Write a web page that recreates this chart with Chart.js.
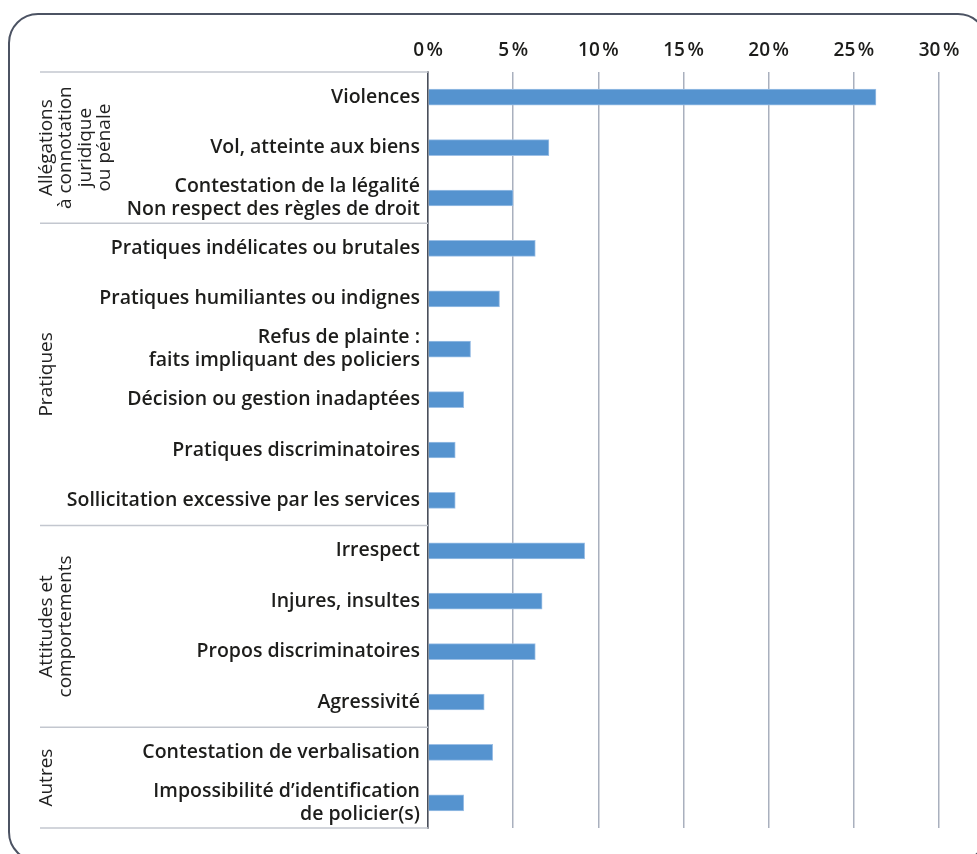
<!DOCTYPE html>
<html lang="fr">
<head>
<meta charset="utf-8">
<title>Motifs de réclamation</title>
<script src="https://cdn.jsdelivr.net/npm/chart.js@4/dist/chart.umd.min.js"></script>
<style>
  html, body { margin: 0; padding: 0; background: #fff; }
  #wrap { position: relative; width: 977px; height: 854px; overflow: hidden; }
  #frame {
    position: absolute; left: 8px; top: 13px; width: 980px; height: 849px;
    box-sizing: border-box; border: 2.5px solid #4c5363; border-radius: 30px;
  }
  #box { position: absolute; left: 0; top: 0; width: 977px; height: 854px; }
</style>
</head>
<body>
<div id="wrap">
  <div id="frame"></div>
  <div id="box"><canvas id="chart"></canvas></div>
</div>
<script>
// categories (top to bottom), multi-line labels as arrays
const categories = [
  'Violences',
  'Vol, atteinte aux biens',
  ['Contestation de la légalité', 'Non respect des règles de droit'],
  'Pratiques indélicates ou brutales',
  'Pratiques humiliantes ou indignes',
  ['Refus de plainte :', 'faits impliquant des policiers'],
  'Décision ou gestion inadaptées',
  'Pratiques discriminatoires',
  'Sollicitation excessive par les services',
  'Irrespect',
  'Injures, insultes',
  'Propos discriminatoires',
  'Agressivité',
  'Contestation de verbalisation',
  ['Impossibilité d\u2019identification', 'de policier(s)']
];

// share of complaints, %
const shares = [26.3, 7.1, 5.0, 6.3, 4.2, 2.5, 2.1, 1.6, 1.6, 9.2, 6.7, 6.3, 3.3, 3.8, 2.1];

// groups: label lines + number of categories in each
const groupLabels = [
  ['Allégations', 'à connotation', 'juridique', 'ou pénale'],
  ['Pratiques'],
  ['Attitudes et', 'comportements'],
  ['Autres']
];
const groupSizes = [3, 6, 4, 2];

const xTicks = [0, 5, 10, 15, 20, 25, 30];

const textColor = '#1d1d1b';
const labelFont = { family: '"Open Sans", sans-serif', size: 19.5, weight: '600', lineHeight: 1.2 };

// draws rotated group names and the light separator lines on the left
const groupPlugin = {
  id: 'groups',
  afterDraw(chart) {
    const ctx = chart.ctx;
    const area = chart.chartArea;
    const n = categories.length;
    const step = (area.bottom - area.top) / n;
    const x0 = 40;
    ctx.save();
    ctx.strokeStyle = '#c3c7cf';
    ctx.lineWidth = 1.5;
    let idx = 0;
    const bounds = [area.top];
    groupSizes.forEach(s => { idx += s; bounds.push(area.top + idx * step); });
    bounds.forEach(b => {
      ctx.beginPath();
      ctx.moveTo(x0, b);
      ctx.lineTo(area.left, b);
      ctx.stroke();
    });
    ctx.fillStyle = '#222';
    ctx.font = '400 19px "Open Sans", sans-serif';
    ctx.textAlign = 'center';
    ctx.textBaseline = 'top';
    groupLabels.forEach((lines, g) => {
      const mid = (bounds[g] + bounds[g + 1]) / 2;
      ctx.save();
      ctx.translate(x0 - 3, mid);
      ctx.rotate(-Math.PI / 2);
      lines.forEach((line, i) => ctx.fillText(line, 0, i * 19.5));
      ctx.restore();
    });
    ctx.restore();
  }
};

new Chart(document.getElementById('chart'), {
  type: 'bar',
  data: {
    labels: categories,
    datasets: [{
      data: shares,
      backgroundColor: '#5593cf',
      borderColor: '#9dc0e6',
      borderWidth: 1,
      barThickness: 16
    }]
  },
  options: {
    indexAxis: 'y',
    responsive: true,
    maintainAspectRatio: false,
    animation: false,
    layout: { padding: { left: 0, right: 38, top: 0, bottom: 26 } },
    plugins: { legend: { display: false }, tooltip: { enabled: false } },
    scales: {
      x: {
        position: 'top',
        min: 0,
        max: 30,
        afterBuildTicks(scale) { scale.ticks = xTicks.map(v => ({ value: v })); },
        afterFit(scale) { scale.height = 72; },
        grid: { color: '#a9b0be', lineWidth: 1.5, drawTicks: false },
        border: { display: false },
        ticks: {
          color: textColor,
          font: { family: '"Open Sans", sans-serif', size: 19, weight: '600' },
          padding: 10,
          callback: v => v + '\u202F%'
        }
      },
      y: {
        afterFit(scale) { scale.width = 428; },
        grid: { display: false, drawTicks: false },
        border: { display: true, color: '#4a4f5a', width: 1.5 },
        ticks: { color: textColor, font: labelFont, padding: 8, autoSkip: false }
      }
    }
  },
  plugins: [groupPlugin]
});
</script>
</body>
</html>
